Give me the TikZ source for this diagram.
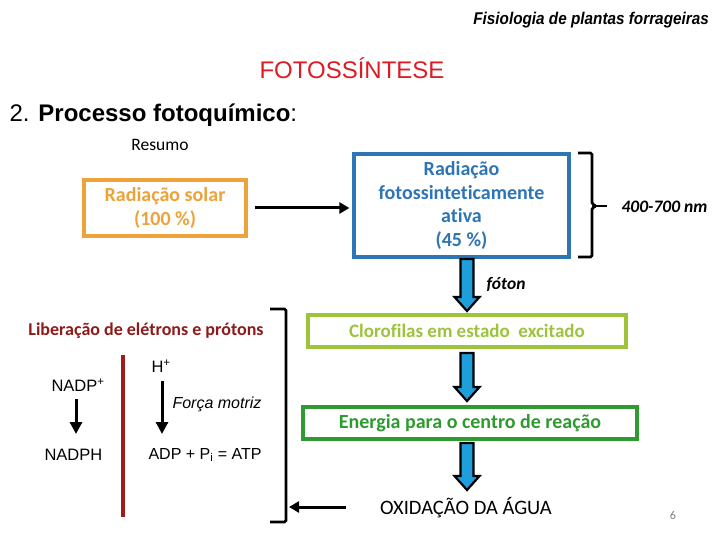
\documentclass[tikz,border=0pt]{standalone}
\usepackage{fontspec}
\setmainfont[Ligatures=NoCommon]{Carlito}
\newfontfamily\arialf{Liberation Sans}
\usetikzlibrary{arrows.meta}
\definecolor{orangeb}{HTML}{EDA33A}
\definecolor{blueb}{HTML}{2E75B6}
\definecolor{limeb}{HTML}{9DC33B}
\definecolor{greenb}{HTML}{2F9A2F}
\definecolor{darkr}{HTML}{8E1B1B}
\definecolor{redline}{HTML}{A01C1C}
\definecolor{cyanf}{HTML}{1E9FDB}
\definecolor{titler}{HTML}{DC1C22}
\newcommand\bluearrow[3]{%
  \filldraw[draw=black,fill=cyanf,line width=2.2pt,line join=miter]
  ({#1-6.5},#2) -- ({#1+6.5},#2) -- ({#1+6.5},{#3-14}) -- ({#1+12.5},{#3-14}) --
  (#1,#3) -- ({#1-12.5},{#3-14}) -- ({#1-6.5},{#3-14}) -- cycle;}
\begin{document}
\begin{tikzpicture}[x=1pt,y=-1pt,
  box/.style={draw,line width=3.2pt,align=center,font=\fontsize{20}{23.5}\selectfont\bfseries,inner sep=0pt},
  thinarr/.style={line width=3pt,-{Triangle[length=10pt,width=11pt]}},
  smallarr/.style={line width=3pt,-{Triangle[length=12pt,width=12pt]}},
  bracket/.style={line width=2.8pt,rounded corners=1.5pt},
  ar/.style={font=\arialf\fontsize{16.5}{20}\selectfont}]
\useasboundingbox (0,0) rectangle (720,540);
\fill[white] (0,0) rectangle (720,540);

\node[anchor=east,font=\arialf\bfseries\itshape\fontsize{17}{19}\selectfont,xscale=0.9] (hdr) at (712,20) {Fisiologia de plantas forrageiras};
\node[font=\arialf\fontsize{24}{26}\selectfont,text=titler] (title) at (352,68) {FOTOSSÍNTESE};
\node[anchor=west,font=\arialf\fontsize{24}{26}\selectfont] (sub) at (6,115) {2. \textbf{Processo fotoquímico}:};
\node[font=\fontsize{17.5}{19}\selectfont] (res) at (160,145) {Resumo};

\node[box,draw=orangeb,text=orangeb,minimum width=162pt,minimum height=56pt] (sol) at (165,208) {Radiação solar\\(100 \%)};
\node[box,draw=blueb,text=blueb,minimum width=215pt,minimum height=103pt] (pfa) at (461.5,205.5) {Radiação\\fotossinteticamente\\ativa\\(45 \%)};
\draw[thinarr] ([xshift=7pt]sol.east) -- ([xshift=-3pt]pfa.west |- sol.east);

\draw[bracket] (578,153) -- (592,153) -- (592,204) -- (596,206) -- (592,208) -- (592,257) -- (578,257);
\coordinate (tick) at (596,206);
\draw[line width=2.8pt] (tick) -- (607,206);
\node[anchor=west,font=\fontsize{17.5}{19}\selectfont\bfseries\itshape] (nm) at (618,207) {400-700 nm};

\node[box,draw=limeb,text=limeb,minimum width=318pt,minimum height=32pt,font=\fontsize{19}{21}\selectfont\bfseries] (clo) at (467,331) {Clorofilas em estado~ excitado};
\node[box,draw=greenb,text=greenb,minimum width=334pt,minimum height=32pt] (ene) at (470,423) {Energia para o centro de reação};
\node[font=\fontsize{20.5}{22}\selectfont] (oxi) at (466,508) {OXIDAÇÃO DA ÁGUA};

\bluearrow{467}{259}{311}
\node[anchor=west,font=\fontsize{17.5}{19}\selectfont\bfseries\itshape] (fot) at (483,284) {fóton};
\bluearrow{467}{353}{401}
\bluearrow{467}{443}{490}

\draw[bracket] (270,309) -- (286,309) -- (286,522) -- (270,522);
\coordinate (lb) at (289,507);
\draw[thinarr] ([xshift=-31pt,yshift=1pt]oxi.west) -- (lb);

\node[font=\fontsize{18}{20}\selectfont\bfseries,text=darkr] (lib) at (146,331) {Liberação de elétrons e prótons};
\draw[redline,line width=3.2pt] (123,355) -- (123,517);
\node[ar,anchor=west] (nadp) at (48,385) {NADP\textsuperscript{+}};
\node[ar,anchor=west] (nadph) at (41,455) {NADPH};
\draw[smallarr] (76,399) -- (76,434);
\node[ar,anchor=west] (hp) at (148,366) {H\textsuperscript{+}};
\draw[smallarr] (162,381) -- (162,434);
\node[anchor=west,font=\arialf\itshape\fontsize{16}{18}\selectfont] (fm) at (169,404) {Força motriz};
\node[ar,anchor=west,font=\arialf\fontsize{16}{18}\selectfont] (adp) at (145,455) {ADP + P\textsubscript{i} = ATP};
\node[font=\fontsize{12}{14}\selectfont,text=gray] (pg) at (673,515) {6};
\end{tikzpicture}
\end{document}
